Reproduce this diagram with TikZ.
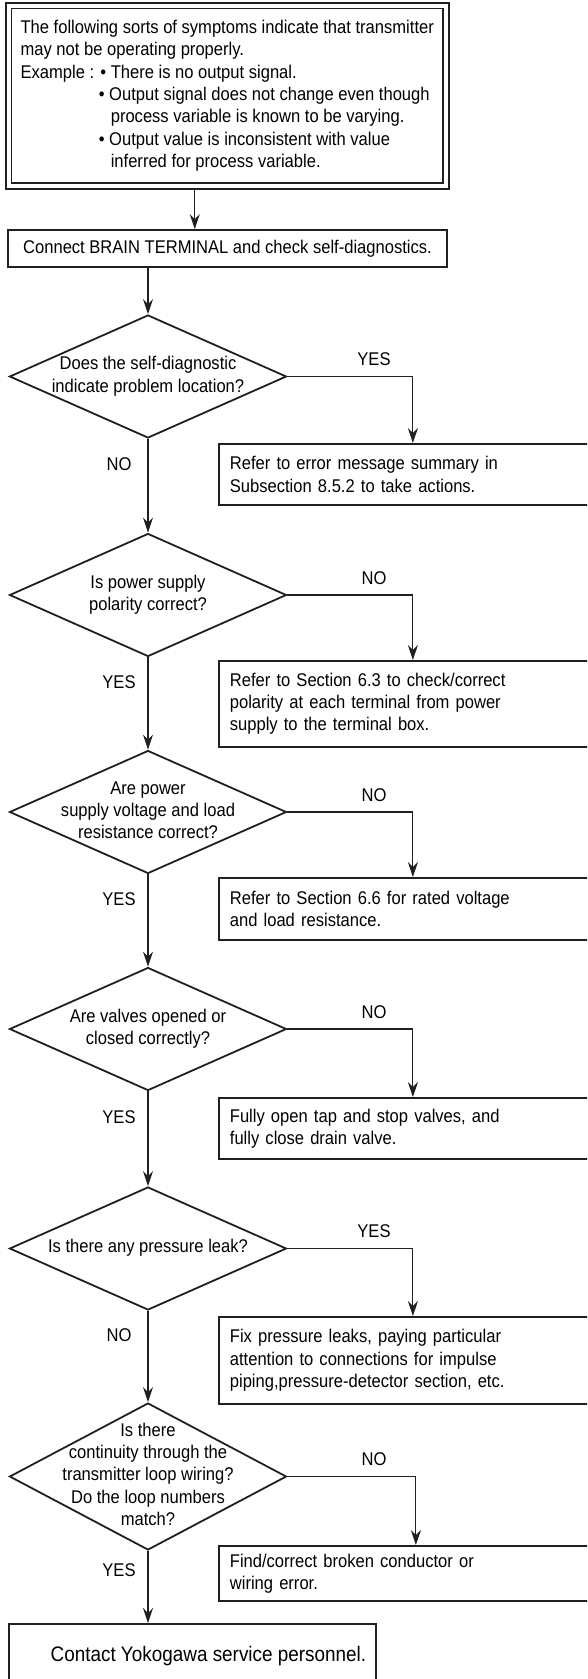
\documentclass[tikz,border=0pt]{standalone}
\usepackage{fontspec}
\setmainfont{Liberation Sans}[FakeStretch=0.9]
\usepackage{tikz}
\usepackage{xcolor}
\usetikzlibrary{arrows.meta, positioning, shapes.geometric, fit}

\definecolor{ink}{HTML}{231F20}
\newcommand{\dtext}[1]{\makebox[0pt]{\begin{tabular}{@{}c@{}}#1\end{tabular}}}

\begin{document}
\begin{tikzpicture}[
  x=1pt, y=-1pt,
  font=\fontsize{18.4}{22.3}\selectfont,
  frame/.style={draw=ink, line width=1.3pt, minimum width=431.5pt, minimum height=174.5pt, align=left},
  sbox/.style={draw=ink, line width=1.8pt, minimum width=439pt, minimum height=37pt, align=center},
  dec/.style={draw=ink, diamond, line width=1.8pt, minimum width=277pt, minimum height=123pt, inner sep=0pt},
  act/.style={draw=ink, line width=1.8pt, anchor=north west, minimum width=388pt, inner xsep=11pt, text width=366pt, align=left},
  arr/.style={-{Stealth[length=15pt, width=10pt, inset=5pt]}, line width=1.1pt, draw=ink},
  llbl/.style={pos=.27, xshift=-29pt},
  rlbl/.style={pos=.345, yshift=17pt},
]
\useasboundingbox (0,0) rectangle (587,1679);
\clip (0,0) rectangle (587,1679);

% Symptoms and first check
\node[frame] (symptoms) at (227.25, 95.75) {The following sorts of symptoms indicate that transmitter\\
may not be operating properly.\\
Example : \textbullet\ There is no output signal.\\
\phantom{Example :} \textbullet\ Output signal does not change even though\\
\phantom{Example : \textbullet} process variable is known to be varying.\\
\phantom{Example :} \textbullet\ Output value is inconsistent with value\\
\phantom{Example : \textbullet} inferred for process variable.};
\node[draw=ink, line width=2pt, fit=(symptoms), inner sep=5pt] (symframe) {};
\node[sbox] (connect) at (227.5, 248.5) {Connect BRAIN TERMINAL and check self-diagnostics.};

% Decisions
\node[dec] (d1) at (148, 376.5) {\dtext{Does the self-diagnostic\\indicate problem location?}};
\node[dec] (d2) at (148, 595) {\dtext{Is power supply\\polarity correct?}};
\node[dec] (d3) at (148, 812) {\dtext{Are power\\supply voltage and load\\resistance correct?}};
\node[dec] (d4) at (148, 1029) {\dtext{Are valves opened or\\closed correctly?}};
\node[dec] (d5) at (148, 1248.5) {\dtext{Is there any pressure leak?}};
\node[dec, minimum height=147pt] (d6) at (148, 1476.5) {\dtext{Is there\\continuity through the\\transmitter loop wiring?\\Do the loop numbers\\match?}};

% Actions
\node[act, minimum height=61pt] (a1) at (218, 443) {Refer to error message summary in\\Subsection 8.5.2 to take actions.};
\node[act, minimum height=86pt] (a2) at (218, 660) {Refer to Section 6.3 to check/correct\\polarity at each terminal from power\\supply to the terminal box.};
\node[act, minimum height=62pt] (a3) at (218, 877) {Refer to Section 6.6 for rated voltage\\and load resistance.};
\node[act, minimum height=61pt] (a4) at (218, 1097) {Fully open tap and stop valves, and\\fully close drain valve.};
\node[act, minimum height=87pt] (a5) at (218, 1316) {Fix pressure leaks, paying particular\\attention to connections for impulse\\piping,pressure-detector section, etc.};
\node[act, minimum height=55pt] (a6) at (218, 1545) {Find/correct broken conductor or\\wiring error.};
\node[draw=ink, line width=1.8pt, anchor=north west, minimum width=367pt, minimum height=64pt, font=\fontsize{21}{24}\selectfont] (final) at (8, 1623) {\hspace*{32pt}Contact Yokogawa service personnel.};

% Main line
\coordinate (tap) at ([xshift=-32.5pt]symframe.south);
\draw[arr] (tap) -- (tap |- connect.north);
\draw[arr] (connect.south -| d1.north) -- (d1.north);
\draw[arr] (d1.south) -- node[llbl]{NO} (d2.north);
\draw[arr] (d2.south) -- node[llbl]{YES} (d3.north);
\draw[arr] (d3.south) -- node[llbl]{YES} (d4.north);
\draw[arr] (d4.south) -- node[llbl]{YES} (d5.north);
\draw[arr] (d5.south) -- node[llbl]{NO} (d6.north);
\draw[arr] (d6.south) -- node[llbl]{YES} (d6.south |- final.north);

% Branches
\draw[arr] (d1.east) -| node[rlbl]{YES} (a1.north);
\draw[arr] (d2.east) -| node[rlbl]{NO} (a2.north);
\draw[arr] (d3.east) -| node[rlbl]{NO} (a3.north);
\draw[arr] (d4.east) -| node[rlbl]{NO} (a4.north);
\draw[arr] (d5.east) -| node[rlbl]{YES} (a5.north);
\draw[arr] (d6.east) -| node[rlbl, pos=.337]{NO} ([xshift=3pt]a6.north);

\end{tikzpicture}
\end{document}
